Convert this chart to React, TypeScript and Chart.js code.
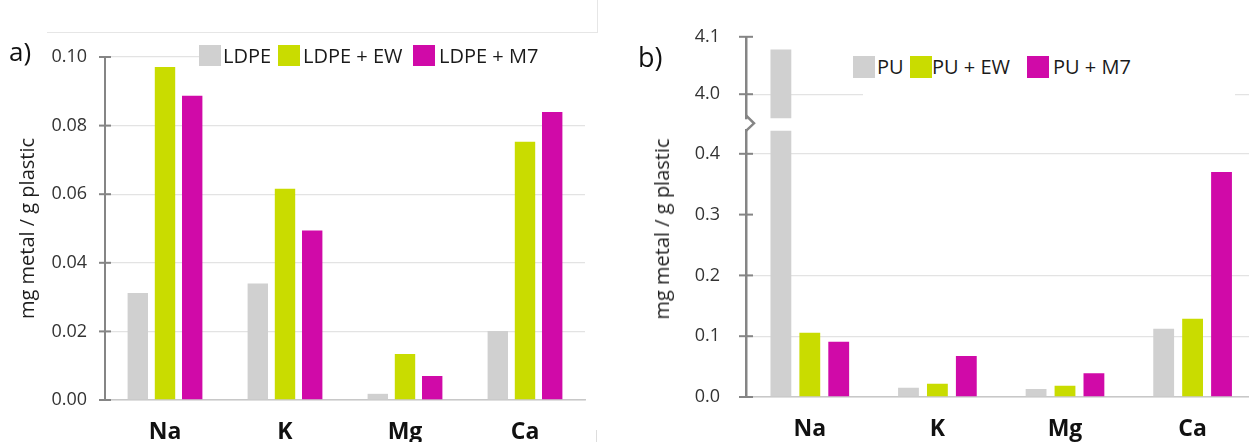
import React, { useEffect, useRef } from 'react';
import { Chart, registerables } from 'chart.js';

Chart.register(...registerables);

// ---------- data ----------
const categories = ['Na', 'K', 'Mg', 'Ca'];

const seriesA = ['LDPE', 'LDPE + EW', 'LDPE + M7'];
const ldpe = [0.0312, 0.034, 0.0018, 0.0201];
const ldpeEW = [0.0971, 0.0616, 0.0134, 0.0753];
const ldpeM7 = [0.0887, 0.0494, 0.007, 0.084];

const seriesB = ['PU', 'PU + EW', 'PU + M7'];
const pu = [4.078, 0.0153, 0.0132, 0.1123];
const puEW = [0.1058, 0.0219, 0.0186, 0.1288];
const puM7 = [0.091, 0.0674, 0.039, 0.37];

const ticksA = [0, 0.02, 0.04, 0.06, 0.08, 0.1];
const ticksBLow = [0, 0.1, 0.2, 0.3, 0.4];
const ticksBHigh = [4.0, 4.1];
const hiddenGridB = [0.3, 4.1];

const yTitle = 'mg metal / g plastic';
const colors = ['#d0d0d0', '#c9dc00', '#d00aa8'];

// ---------- styles ----------
const FONT = "'Open Sans', sans-serif";
const AXIS = '#858585';
const GRID = '#e3e3e3';
const BASE = '#c8c8c8';
const TICK_TXT = '#333333';

const crossTicks = {
  id: 'crossTicks',
  afterDraw(chart: any, _args: any, opts: any) {
    const ys = chart.scales.y;
    if (!ys || !opts || !opts.len) return;
    const ctx = chart.ctx;
    const x0 = chart.chartArea.left;
    ctx.save();
    ctx.strokeStyle = opts.color;
    ctx.lineWidth = opts.width;
    ys.ticks.forEach((t: any) => {
      const py = ys.getPixelForValue(t.value);
      ctx.beginPath();
      ctx.moveTo(x0 - opts.len, py);
      ctx.lineTo(x0 + opts.len, py);
      ctx.stroke();
    });
    if (opts.zigzag) {
      const b = chart.chartArea.bottom;
      ctx.lineWidth = opts.width + 0.5;
      ctx.beginPath();
      ctx.moveTo(x0, b - 3);
      ctx.lineTo(x0 + 8, b + 5);
      ctx.lineTo(x0, b + 12.5);
      ctx.stroke();
    }
    ctx.restore();
  },
};

type Cfg = {
  values: number[][];
  series: string[];
  min: number;
  max: number;
  ticks: number[];
  hidden: number[];
  decimals: number;
  padding: { top: number; bottom: number; left: number; right: number };
  yWidth: number;
  xHeight: number;
  showX: boolean;
  catPct: number;
  barPct: number;
  tickPad: number;
  tickLen: number;
  axisWidth: number;
  zigzag: boolean;
  title: string | null;
};

function makeConfig(c: Cfg): any {
  return {
    type: 'bar',
    data: {
      labels: categories,
      datasets: c.series.map((s, i) => ({
        label: s,
        data: c.values[i],
        backgroundColor: colors[i],
        borderWidth: 0,
        categoryPercentage: c.catPct,
        barPercentage: c.barPct,
        clip: 0,
      })),
    },
    options: {
      responsive: false,
      animation: false,
      layout: { padding: c.padding },
      plugins: {
        legend: { display: false },
        tooltip: { enabled: false },
        crossTicks: { len: c.tickLen, color: AXIS, width: 2, zigzag: c.zigzag },
      },
      scales: {
        x: {
          display: c.showX,
          grid: { display: false, drawTicks: false },
          border: { display: true, color: BASE, width: 1.5 },
          ticks: {
            color: '#111111',
            padding: 19,
            font: { family: FONT, size: 23, weight: 'bold' },
          },
          afterFit: (s: any) => {
            s.height = c.xHeight;
          },
        },
        y: {
          min: c.min,
          max: c.max,
          afterBuildTicks: (s: any) => {
            s.ticks = c.ticks.map((v) => ({ value: v }));
          },
          afterFit: (s: any) => {
            s.width = c.yWidth;
          },
          grid: {
            drawTicks: false,
            lineWidth: 1.3,
            color: (ctx: any) => {
              const v = ctx.tick ? ctx.tick.value : NaN;
              return c.hidden.some((h) => Math.abs(h - v) < 1e-6) ? 'rgba(0,0,0,0)' : GRID;
            },
          },
          border: { display: true, color: AXIS, width: c.axisWidth },
          ticks: {
            padding: c.tickPad,
            color: TICK_TXT,
            font: { family: FONT, size: 18 },
            callback: (v: any) => Number(v).toFixed(c.decimals),
          },
          title: c.title
            ? {
                display: true,
                text: c.title,
                color: '#1e1e1e',
                font: { family: FONT, size: 20 },
                padding: { top: 16, bottom: 0 },
              }
            : { display: false },
        },
      },
    },
    plugins: [crossTicks],
  };
}

function BarCanvas({ cfg, left, width, height }: { cfg: Cfg; left: number; width: number; height: number }) {
  const ref = useRef<HTMLCanvasElement | null>(null);
  useEffect(() => {
    if (!ref.current) return;
    const chart = new Chart(ref.current, makeConfig(cfg));
    return () => chart.destroy();
  }, []);
  return (
    <canvas
      ref={ref}
      width={width}
      height={height}
      style={{ position: 'absolute', left, top: 0, width, height }}
    />
  );
}

function Legend({ names, sqX, txtX, sqTop, sqH, txtTop }: { names: string[]; sqX: number[]; txtX: number[]; sqTop: number; sqH: number; txtTop: number }) {
  return (
    <>
      {names.map((n, i) => (
        <React.Fragment key={n}>
          <div style={{ position: 'absolute', left: sqX[i], top: sqTop, width: 22, height: sqH, background: colors[i] }} />
          <div
            style={{
              position: 'absolute',
              left: txtX[i],
              top: txtTop,
              fontFamily: FONT,
              fontSize: 20,
              lineHeight: '20px',
              color: '#1a1a1a',
              whiteSpace: 'nowrap',
            }}
          >
            {n}
          </div>
        </React.Fragment>
      ))}
    </>
  );
}

export default function App() {
  const H = 480;
  const cfgA: Cfg = {
    values: [ldpe, ldpeEW, ldpeM7],
    series: seriesA,
    min: 0,
    max: 0.1,
    ticks: ticksA,
    hidden: [],
    decimals: 2,
    padding: { top: 57, bottom: 30, left: 0, right: 15 },
    yWidth: 105,
    xHeight: 50,
    showX: true,
    catPct: 0.68,
    barPct: 0.75,
    tickPad: 18,
    tickLen: 6,
    axisWidth: 2,
    zigzag: false,
    title: yTitle,
  };
  const cfgBLow: Cfg = {
    values: [pu, puEW, puM7],
    series: seriesB,
    min: 0,
    max: 0.438,
    ticks: ticksBLow,
    hidden: hiddenGridB,
    decimals: 1,
    padding: { top: 130.7, bottom: 33, left: 0, right: 3.6 },
    yWidth: 126,
    xHeight: 50,
    showX: true,
    catPct: 0.68,
    barPct: 0.72,
    tickPad: 26,
    tickLen: 7,
    axisWidth: 2.5,
    zigzag: false,
    title: null,
  };
  const cfgBHigh: Cfg = {
    ...cfgBLow,
    min: 3.958,
    max: 4.1,
    ticks: ticksBHigh,
    padding: { top: 32.3, bottom: H - 118.3, left: 0, right: 3.6 },
    xHeight: 0,
    showX: false,
    zigzag: true,
  };

  return (
    <div
      style={{
        position: 'fixed',
        left: 0,
        top: 0,
        width: 1249,
        height: 442,
        overflow: 'hidden',
        background: '#ffffff',
      }}
    >
      {/* faint frame of panel a */}
      <div style={{ position: 'absolute', left: 47, top: -2, width: 550, height: 34, borderRight: '1px solid #e6e6e6', borderBottom: '1px solid #e6e6e6' }} />
      <div style={{ position: 'absolute', left: 596, top: 430, width: 1, height: 12, background: '#dddddd' }} />

      <BarCanvas cfg={cfgA} left={0} width={600} height={H} />
      <BarCanvas cfg={cfgBLow} left={620} width={640} height={H} />
      <BarCanvas cfg={cfgBHigh} left={620} width={640} height={H} />

      {/* legend boxes (white, covering grid lines) */}
      <div style={{ position: 'absolute', left: 200, top: 44, width: 390, height: 26, background: '#ffffff' }} />
      <div style={{ position: 'absolute', left: 863, top: 50, width: 372, height: 50, background: '#ffffff' }} />

      <Legend names={seriesA} sqX={[199, 278, 413]} txtX={[223, 303, 439]} sqTop={45} sqH={21} txtTop={45.5} />
      <Legend names={seriesB} sqX={[853, 910, 1027]} txtX={[877, 932, 1053]} sqTop={56} sqH={22} txtTop={56.5} />

      <div style={{ position: 'absolute', left: 9, top: 38, fontFamily: FONT, fontSize: 26, lineHeight: '26px', color: '#111' }}>a)</div>
      <div style={{ position: 'absolute', left: 638, top: 43, fontFamily: FONT, fontSize: 27, lineHeight: '27px', color: '#111' }}>b)</div>

      <div
        style={{
          position: 'absolute',
          left: 662,
          top: 228.5,
          transform: 'translate(-50%, -50%) rotate(-90deg)',
          fontFamily: FONT,
          fontSize: 20,
          lineHeight: '24px',
          color: '#1e1e1e',
          whiteSpace: 'nowrap',
        }}
      >
        {yTitle}
      </div>
    </div>
  );
}
